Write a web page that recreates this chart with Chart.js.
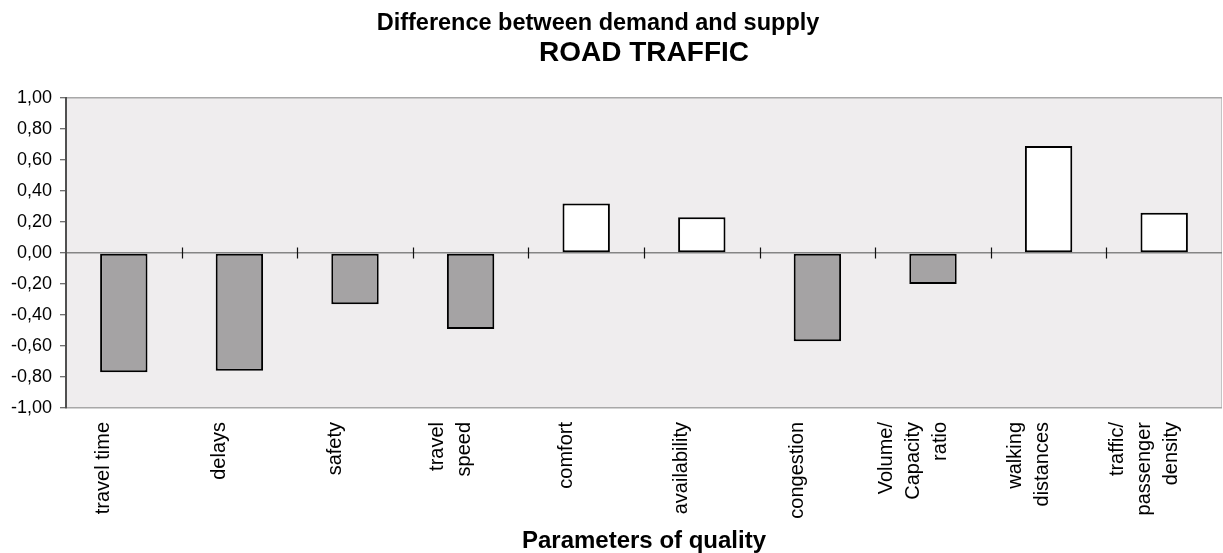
<!DOCTYPE html>
<html>
<head>
<meta charset="utf-8">
<script src="https://cdn.jsdelivr.net/npm/chart.js@4.4.1/dist/chart.umd.min.js"></script>
<style>
html,body{margin:0;padding:0;background:#fff;}
#wrap{width:1223px;height:553px;position:relative;}
</style>
</head>
<body>
<div id="wrap"><canvas id="c"></canvas></div>
<script>
// ---- data ----
const categories = [
  ["travel time"],
  ["delays"],
  ["safety"],
  ["travel", "speed"],
  ["comfort"],
  ["availability"],
  ["congestion"],
  ["Volume/", "Capacity", "ratio"],
  ["walking", "distances"],
  ["traffic/", "passenger", "density"]
];
const differenceValues = [-0.77, -0.76, -0.33, -0.49, 0.32, 0.23, -0.57, -0.20, 0.69, 0.26];
const yAxisMin = -1;
const yAxisMax = 1;
const yAxisStep = 0.2;
const titleLines = ["Difference between demand and supply", "ROAD TRAFFIC"];
const xAxisTitle = "Parameters of quality";

// ---- helpers ----
const FONT = "'Liberation Sans', Arial, Helvetica, sans-serif";
Chart.defaults.font.family = FONT;
Chart.defaults.color = '#000';

// spread multi-line labels on half-line steps so each block is centred
function padLabel(lines) {
  const out = [];
  for (let i = 0; i < 3 - lines.length; i++) out.push('');
  lines.forEach((l, i) => { if (i > 0) out.push(''); out.push(l); });
  return out;
}
const tickLabels = categories.map(padLabel);

function fmt(v) {
  if (Math.abs(v) < 1e-9) return '0,00';
  return v.toFixed(2).replace('.', ',');
}

const bgPlugin = {
  id: 'plotBg',
  beforeDraw(chart) {
    const {ctx, chartArea: a} = chart;
    ctx.save();
    ctx.fillStyle = '#EFEDEE';
    ctx.fillRect(a.left, a.top, a.right - a.left, a.bottom - a.top);
    ctx.strokeStyle = '#c4c4c4';
    ctx.lineWidth = 1;
    ctx.beginPath();
    ctx.moveTo(a.right - 0.5, a.top);
    ctx.lineTo(a.right - 0.5, a.bottom);
    ctx.stroke();
    ctx.restore();
  }
};

const zeroTicksPlugin = {
  id: 'zeroTicks',
  beforeDatasetsDraw(chart) {
    const {ctx} = chart;
    const xs = chart.scales.x, ys = chart.scales.y;
    const y0 = ys.getPixelForValue(0);
    ctx.save();
    ctx.strokeStyle = '#111';
    ctx.lineWidth = 1.2;
    ctx.beginPath();
    for (let k = 1; k < categories.length; k++) {
      const x = Math.round((xs.getPixelForValue(k - 1) + xs.getPixelForValue(k)) / 2) + 0.5;
      ctx.moveTo(x, y0 - 5.5);
      ctx.lineTo(x, y0 + 5.5);
    }
    ctx.stroke();
    ctx.restore();
  }
};

const titlePlugin = {
  id: 'twoLineTitle',
  afterDraw(chart) {
    const {ctx} = chart;
    const a = chart.chartArea;
    ctx.save();
    ctx.fillStyle = '#000';
    ctx.textAlign = 'center';
    ctx.textBaseline = 'alphabetic';
    ctx.font = 'bold 23.5px ' + FONT;
    ctx.fillText(titleLines[0], 598, 29.5);
    ctx.font = 'bold 28px ' + FONT;
    ctx.fillText(titleLines[1], (a.left + a.right) / 2, 60.5);
    ctx.restore();
  }
};

new Chart(document.getElementById('c'), {
  type: 'bar',
  data: {
    labels: tickLabels,
    datasets: [{
      data: differenceValues,
      backgroundColor: differenceValues.map(v => v < 0 ? '#A5A3A4' : '#FFFFFF'),
      borderColor: '#000',
      borderWidth: 2,
      borderSkipped: false,
      barPercentage: 0.41,
      categoryPercentage: 1.0
    }]
  },
  options: {
    responsive: true,
    maintainAspectRatio: false,
    animation: false,
    devicePixelRatio: 1,
    layout: { padding: { top: 98, right: 1, bottom: 0, left: 0 } },
    plugins: {
      legend: { display: false },
      tooltip: { enabled: false },
      title: { display: false }
    },
    scales: {
      x: {
        offset: true,
        grid: { display: true, color: 'rgba(0,0,0,0)', drawTicks: false },
        border: { display: false },
        ticks: {
          autoSkip: false,
          minRotation: 90,
          maxRotation: 90,
          padding: 14,
          labelOffset: -47,
          color: '#000',
          font: { size: 20, lineHeight: 13.5 / 20 }
        },
        title: {
          display: true,
          text: xAxisTitle,
          color: '#000',
          font: { size: 24, weight: 'bold', lineHeight: 1 },
          padding: { top: 0, bottom: 0 }
        },
        afterFit(scale) {
          scale.height = 145;
          scale.paddingLeft = 0;
          scale.paddingRight = 0;
        }
      },
      y: {
        min: yAxisMin,
        max: yAxisMax,
        ticks: {
          stepSize: yAxisStep,
          padding: 8,
          color: '#000',
          font: { size: 18 },
          callback: v => fmt(v)
        },
        grid: {
          color: c => {
            const v = c.tick ? c.tick.value : NaN;
            if (Math.abs(v) < 1e-9) return '#858585';
            if (Math.abs(Math.abs(v) - 1) < 1e-9) return '#A8A8A8';
            return 'rgba(0,0,0,0)';
          },
          lineWidth: 1.5,
          tickColor: '#404040',
          tickLength: 6,
          tickWidth: 1
        },
        border: { display: true, color: '#505050', width: 2 },
        afterFit(scale) {
          scale.width = 66;
          scale.paddingTop = 0;
          scale.paddingBottom = 0;
        }
      }
    }
  },
  plugins: [bgPlugin, zeroTicksPlugin, titlePlugin]
});
</script>
</body>
</html>
